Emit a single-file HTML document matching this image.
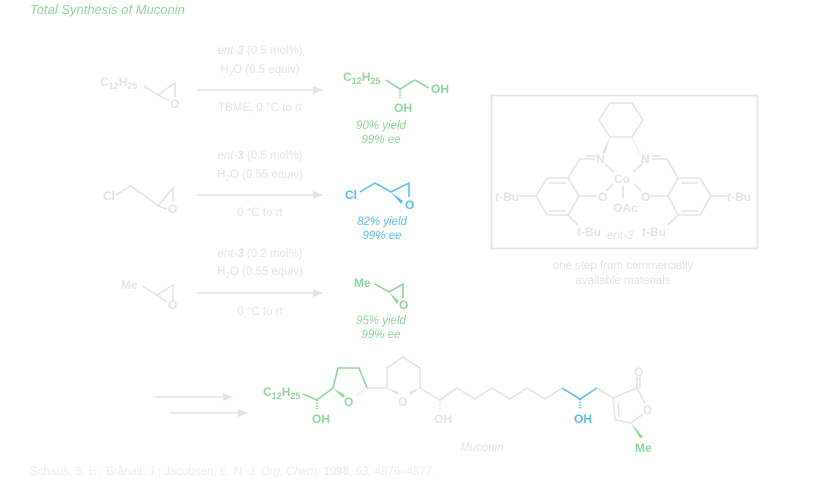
<!DOCTYPE html>
<html><head><meta charset="utf-8"><style>
html,body{margin:0;padding:0;background:#fff;}
svg{display:block;font-family:"Liberation Sans",sans-serif;}
.g{fill:#e3e3e3}.gs{stroke:#e3e3e3;stroke-width:1.6;fill:none}
.gr{fill:#8fd69b}.grs{stroke:#8fd69b;stroke-width:1.6;fill:none}
.b{fill:#5bbfe9}.bs{stroke:#5bbfe9;stroke-width:1.6;fill:none}
.t{font-size:11.5px}.bd{font-weight:bold;font-size:12px}
</style></head><body>
<svg width="825" height="486" viewBox="0 0 825 486">
<defs><marker id="ah" markerWidth="10" markerHeight="8" refX="9" refY="4" orient="auto" markerUnits="userSpaceOnUse"><path d="M0,0 L10,4 L0,8 Z" fill="#e3e3e3"/></marker></defs>
<text x="30" y="14" class="gr" font-size="13" font-style="italic">Total Synthesis of Muconin</text>

<!-- Row 1 -->
<text x="100" y="86" class="g bd">C<tspan font-size="9" dy="3">12</tspan><tspan dy="-3">H</tspan><tspan font-size="9" dy="3">25</tspan></text>
<polyline class="gs" points="144,86 158,95 175,83 175,97"/><line class="gs" x1="158" y1="95" x2="170" y2="101"/>
<text x="170" y="108" class="g bd">O</text>
<line class="gs" x1="197" y1="90" x2="322" y2="90" marker-end="url(#ah)"/>
<text x="260" y="54" class="g t" text-anchor="middle"><tspan font-style="italic">ent</tspan><tspan font-style="italic">-</tspan><tspan font-weight="bold" font-style="italic">3</tspan> (0.5 mol%)</text>
<text x="260" y="73" class="g t" text-anchor="middle">H<tspan font-size="8" dy="3">2</tspan><tspan dy="-3">O (0.5 equiv)</tspan></text>
<text x="260" y="111" class="g t" text-anchor="middle">TBME, 0 °C to rt</text>
<text x="343" y="81" class="gr bd">C<tspan font-size="9" dy="3">12</tspan><tspan dy="-3">H</tspan><tspan font-size="9" dy="3">25</tspan></text>
<polyline class="grs" points="386,80 400,89 415,80 429,88"/>
<line x1="400" y1="89" x2="400" y2="98" stroke="#8fd69b" stroke-width="2.5" stroke-dasharray="1.2,1.5"/>
<text x="394" y="112" class="gr bd">OH</text>
<text x="431" y="93" class="gr bd">OH</text>
<text x="381" y="129" class="gr t" font-style="italic" text-anchor="middle">90% yield</text>
<text x="381" y="143" class="gr t" font-style="italic" text-anchor="middle">99% ee</text>

<!-- Row 2 -->
<text x="103" y="200" class="g bd">Cl</text>
<polyline class="gs" points="116,195 130,186 144,195 158,206 173,188 173,202"/><line class="gs" x1="158" y1="206" x2="167" y2="209"/>
<text x="168" y="213" class="g bd">O</text>
<line class="gs" x1="197" y1="195" x2="322" y2="195" marker-end="url(#ah)"/>
<text x="260" y="159" class="g t" text-anchor="middle"><tspan font-style="italic">ent-</tspan><tspan font-weight="bold" font-style="italic">3</tspan> (0.5 mol%)</text>
<text x="260" y="178" class="g t" text-anchor="middle">H<tspan font-size="8" dy="3">2</tspan><tspan dy="-3">O (0.55 equiv)</tspan></text>
<text x="260" y="216" class="g t" text-anchor="middle">0 °C to rt</text>
<text x="345" y="199" class="b bd">Cl</text>
<polyline class="bs" points="360,192 375,183 391,192 409,183 409,197"/>
<polygon points="391,192 403,201 401,204" fill="#5bbfe9"/>
<text x="405" y="209" class="b bd">O</text>
<text x="382" y="225" class="b t" font-style="italic" text-anchor="middle">82% yield</text>
<text x="382" y="239" class="b t" font-style="italic" text-anchor="middle">99% ee</text>

<!-- Row 3 -->
<text x="121" y="289" class="g bd">Me</text>
<polyline class="gs" points="142,286 157,295 173,285 173,300"/><line class="gs" x1="157" y1="295" x2="167" y2="302"/>
<text x="168" y="309" class="g bd">O</text>
<line class="gs" x1="197" y1="293" x2="322" y2="293" marker-end="url(#ah)"/>
<text x="260" y="257" class="g t" text-anchor="middle"><tspan font-style="italic">ent-</tspan><tspan font-weight="bold" font-style="italic">3</tspan> (0.2 mol%)</text>
<text x="260" y="275" class="g t" text-anchor="middle">H<tspan font-size="8" dy="3">2</tspan><tspan dy="-3">O (0.55 equiv)</tspan></text>
<text x="260" y="315" class="g t" text-anchor="middle">0 °C to rt</text>
<text x="354" y="287" class="gr bd">Me</text>
<polyline class="grs" points="375,284 389,292 403,284 403,298"/>
<polygon points="389,292 399,301 397,304" fill="#8fd69b"/>
<text x="399" y="309" class="gr bd">O</text>
<text x="381" y="324" class="gr t" font-style="italic" text-anchor="middle">95% yield</text>
<text x="381" y="338" class="gr t" font-style="italic" text-anchor="middle">99% ee</text>

<!-- Catalyst box -->
<rect x="491.5" y="95.5" width="266" height="153" fill="none" stroke="#e3e3e3" stroke-width="1.6"/>
<polygon class="gs" points="610,103 632,103 643,120 632,137 610,137 599,120"/>
<polygon points="610,137 602,153 605,154" fill="#e3e3e3"/>
<line x1="632" y1="137" x2="640" y2="153" stroke="#e3e3e3" stroke-width="2" stroke-dasharray="1.2,1.5"/>
<text x="596" y="163" class="g bd">N</text><text x="641" y="163" class="g bd">N</text>
<polyline class="gs" points="595,159 580,159 568,178 547,178 536,196 547,215 568,215 579,196 568,178"/>
<line class="gs" x1="586" y1="156" x2="596" y2="156"/>
<polyline class="gs" points="652,159 667,159 678,178 700,178 711,196 700,215 678,215 668,196 678,178"/>
<line class="gs" x1="652" y1="156" x2="661" y2="156"/>
<line class="gs" x1="549" y1="183" x2="566" y2="183"/><line class="gs" x1="549" y1="211" x2="566" y2="211"/>
<line class="gs" x1="681" y1="183" x2="698" y2="183"/><line class="gs" x1="681" y1="211" x2="698" y2="211"/>
<line class="gs" x1="579" y1="196" x2="597" y2="196"/><line class="gs" x1="668" y1="196" x2="650" y2="196"/>
<line class="gs" x1="536" y1="196" x2="519" y2="196"/><line class="gs" x1="711" y1="196" x2="727" y2="196"/>
<line class="gs" x1="568" y1="215" x2="578" y2="225"/><line class="gs" x1="678" y1="215" x2="668" y2="225"/>
<text x="614" y="183" class="g bd">Co</text>
<line class="gs" x1="605" y1="164" x2="614" y2="172"/><line class="gs" x1="642" y1="164" x2="633" y2="172"/>
<line class="gs" x1="613" y1="184" x2="606" y2="191"/><line class="gs" x1="634" y1="184" x2="641" y2="191"/>
<line class="gs" x1="623" y1="186" x2="623" y2="198"/>
<text x="598" y="201" class="g bd">O</text><text x="641" y="201" class="g bd">O</text>
<text x="613" y="212" class="g bd">OAc</text>
<text x="495" y="201" class="g bd"><tspan font-style="italic">t</tspan>-Bu</text>
<text x="727" y="201" class="g bd"><tspan font-style="italic">t</tspan>-Bu</text>
<text x="577" y="236" class="g bd"><tspan font-style="italic">t</tspan>-Bu</text>
<text x="642" y="236" class="g bd"><tspan font-style="italic">t</tspan>-Bu</text>
<text x="607" y="239" class="g t" font-style="italic">ent-3</text>
<text x="623" y="269" class="g t" text-anchor="middle">one step from commercially</text>
<text x="623" y="284" class="g t" text-anchor="middle">available materials</text>

<!-- Bottom arrows -->
<line class="gs" x1="155" y1="397" x2="232" y2="397" marker-end="url(#ah)"/>
<line class="gs" x1="170" y1="413" x2="247" y2="413" marker-end="url(#ah)"/>

<!-- Muconin -->
<text x="263" y="396" class="gr bd">C<tspan font-size="9" dy="3">12</tspan><tspan dy="-3">H</tspan><tspan font-size="9" dy="3">25</tspan></text>
<polyline class="grs" points="303,394 317,400 333,388"/>
<line x1="317" y1="400" x2="317" y2="409" stroke="#8fd69b" stroke-width="2.5" stroke-dasharray="1.2,1.5"/>
<text x="312" y="423" class="gr bd">OH</text>
<polyline class="grs" points="333,388 338,368 359,368 367,388"/>
<polygon points="333,388 343,398 345,395" fill="#8fd69b"/>
<text x="344" y="406" class="gr bd">O</text>
<line x1="367" y1="388" x2="356" y2="396" stroke="#e3e3e3" stroke-width="2" stroke-dasharray="1.2,1.5"/>
<line class="gs" x1="367" y1="388" x2="387" y2="388"/>
<polyline class="gs" points="387,388 387,368 403,357 420,368 420,388"/>
<polygon points="387,388 397,395 399,392" fill="#e3e3e3"/>
<polygon points="420,388 409,392 411,395" fill="#e3e3e3"/>
<text x="398" y="406" class="g bd">O</text>
<polyline class="gs" points="420,388 440,400 457,388 475,399 492,388 510,399 527,388 545,399 562,388"/>
<line x1="440" y1="400" x2="440" y2="409" stroke="#e3e3e3" stroke-width="2.5" stroke-dasharray="1.2,1.5"/>
<text x="434" y="423" class="g bd">OH</text>
<polyline class="bs" points="562,388 580,399 597,388"/>
<line x1="580" y1="399" x2="580" y2="409" stroke="#5bbfe9" stroke-width="2.5" stroke-dasharray="1.2,1.5"/>
<text x="574" y="423" class="b bd">OH</text>
<polyline class="gs" points="597,388 613,398 637,388 645,403"/>
<line class="gs" x1="613" y1="398" x2="615" y2="420"/><line class="gs" x1="618" y1="402" x2="619" y2="417"/>
<line class="gs" x1="615" y1="420" x2="631" y2="423"/>
<line class="gs" x1="637" y1="388" x2="637" y2="377"/><line class="gs" x1="640" y1="388" x2="640" y2="377"/>
<text x="634" y="376" class="g bd">O</text>
<text x="643" y="414" class="g bd">O</text>
<line class="gs" x1="631" y1="423" x2="643" y2="414"/>
<polygon points="631,423 640,438 643,437" fill="#8fd69b"/>
<text x="635" y="452" class="gr bd">Me</text>
<text x="460" y="451" class="g t" font-style="italic">Muconin</text>

<text x="30" y="475" fill="#ececec" font-size="11.5">Schaus, S. E.; Brånalt, J.; Jacobsen, E. N. <tspan font-style="italic">J. Org. Chem.</tspan> <tspan font-weight="bold">1998</tspan>, <tspan font-style="italic">63</tspan>, 4876–4877.</text>
</svg>
</body></html>
